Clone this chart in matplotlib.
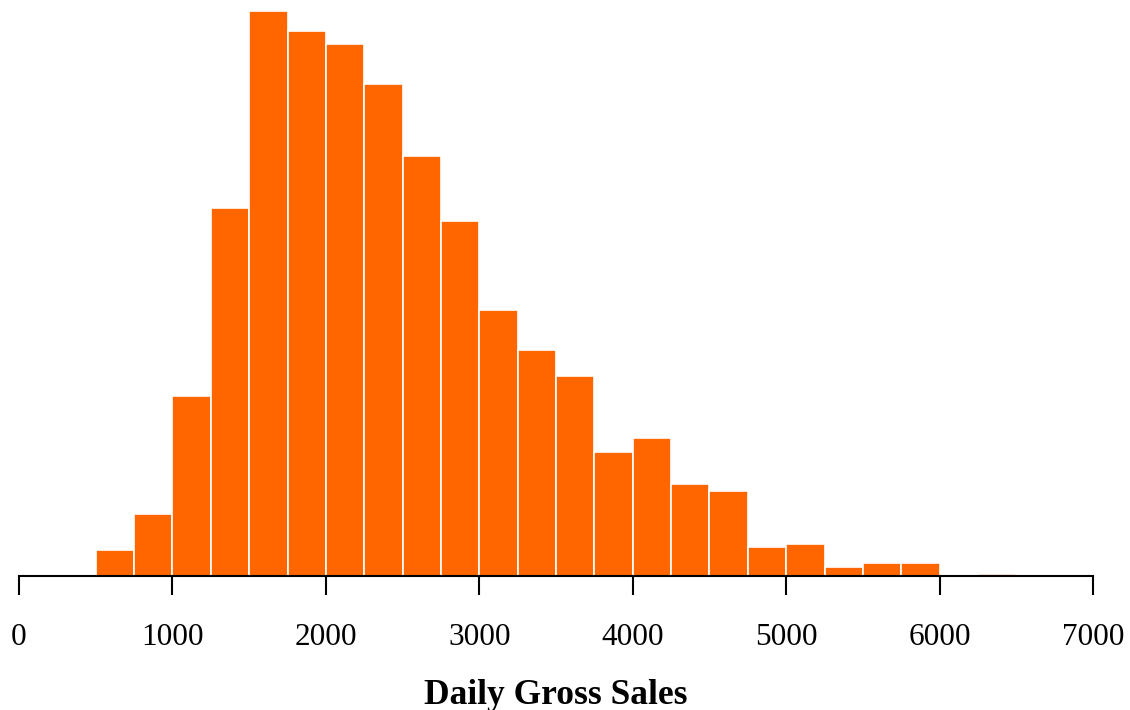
import matplotlib.pyplot as plt
import numpy as np

# histogram bins (width 250) and bar heights
bin_edges = np.arange(500, 6750, 250)
counts = [26, 62, 180, 368, 565, 545, 532, 492, 420, 355, 266, 226,
          200, 124, 138, 92, 85, 29, 32, 9, 13, 13, 0, 2]
xticks = [0, 1000, 2000, 3000, 4000, 5000, 6000, 7000]

plt.rcParams['font.family'] = ['Liberation Serif', 'DejaVu Serif']

fig = plt.figure(figsize=(11.3, 7.1), dpi=100)
ax = fig.add_axes([19 / 1130, 134 / 710, 1074 / 1130, 566 / 710])

ax.bar(bin_edges[:-1], counts, width=250, align='edge',
       color='#FF6600', edgecolor='white', linewidth=1.2)

ax.set_xlim(0, 7000)
ax.set_ylim(0, 566)
ax.set_xticks(xticks)
ax.set_xticklabels([str(t) for t in xticks])
ax.set_yticks([])

for s in ['top', 'right', 'left']:
    ax.spines[s].set_visible(False)
ax.spines['bottom'].set_linewidth(1.5)
ax.tick_params(axis='x', length=14, width=1.5, labelsize=22.5, pad=20)

ax.set_xlabel('Daily Gross Sales', fontsize=25.5, fontweight='bold', labelpad=19)

fig.savefig('out.png', dpi=100)
